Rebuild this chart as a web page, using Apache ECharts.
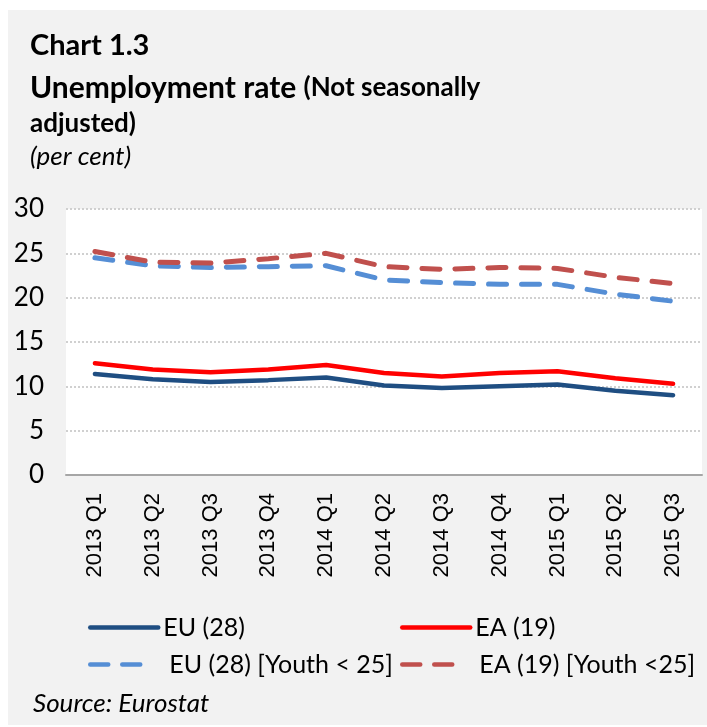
<!DOCTYPE html>
<html>
<head>
<meta charset="utf-8">
<script src="https://cdn.jsdelivr.net/npm/echarts@6/dist/echarts.min.js"></script>
<style>html,body{margin:0;padding:0;background:#fff;}#c{width:707px;height:727px;}</style>
</head>
<body>
<div id="c"></div>
<script>
const categories = ['2013 Q1','2013 Q2','2013 Q3','2013 Q4','2014 Q1','2014 Q2','2014 Q3','2014 Q4','2015 Q1','2015 Q2','2015 Q3'];
const eu28 = [11.4, 10.8, 10.5, 10.7, 11.0, 10.1, 9.8, 10.0, 10.2, 9.5, 9.0];
const ea19 = [12.6, 11.9, 11.6, 11.9, 12.4, 11.5, 11.1, 11.5, 11.7, 10.9, 10.3];
const eu28Youth = [24.5, 23.6, 23.4, 23.5, 23.6, 22.0, 21.7, 21.5, 21.5, 20.4, 19.6];
const ea19Youth = [25.2, 24.0, 23.9, 24.4, 25.0, 23.5, 23.2, 23.4, 23.3, 22.3, 21.6];
const yTicks = [0, 5, 10, 15, 20, 25, 30];

const FONT = 'Lato';
const chart = echarts.init(document.getElementById('c'), null, {renderer: 'canvas'});

function legendAt(name, left, top, width, dashType) {
  const l = {
    data: [name], left: left, top: top, itemWidth: width, itemHeight: 14,
    padding: 0, textStyle: {fontFamily: FONT, fontSize: 25, color: '#000'},
    itemStyle: {opacity: 0},
    lineStyle: {width: 4.5, cap: 'round'}
  };
  if (dashType) l.lineStyle.type = dashType;
  return l;
}

chart.setOption({
  backgroundColor: '#ffffff',
  animation: false,
  graphic: [
    {type: 'rect', z: -10, shape: {x: 8, y: 10, width: 699, height: 715}, style: {fill: '#f2f2f2'}},
    {type: 'text', left: 30, top: 31, style: {text: 'Chart 1.3', font: 'bold 29px Lato', fill: '#000'}},
    {type: 'text', left: 30, top: 73, style: {
      rich: {
        a: {fontFamily: FONT, fontWeight: 'bold', fontSize: 30, fill: '#000', color: '#000'},
        b: {fontFamily: FONT, fontWeight: 'bold', fontSize: 26, fill: '#000', color: '#000'}
      },
      text: '{a|Unemployment rate }{b|(Not seasonally}'
    }},
    {type: 'text', left: 30, top: 111, style: {text: 'adjusted)', font: 'bold 26px Lato', fill: '#000'}},
    {type: 'text', left: 30, top: 144, style: {text: '(per cent)', font: 'italic 26px Lato', fill: '#000'}},
    {type: 'text', left: 33, top: 691, style: {text: 'Source: Eurostat', font: 'italic 26px Lato', fill: '#000'}}
  ],
  grid: {left: 66, right: 5, top: 209, bottom: 252, show: true, backgroundColor: '#ffffff', borderWidth: 0},
  legend: [
    legendAt('EU (28)', 88, 615, 68),
    legendAt('EA (19)', 400, 615, 68),
    legendAt('EU (28) [Youth < 25]', 88, 652, 74, [18, 14, 18, 200]),
    legendAt('EA (19) [Youth <25]', 400, 652, 72, [18, 14, 18, 200])
  ],
  xAxis: {
    type: 'category', data: categories, boundaryGap: true,
    axisLine: {lineStyle: {color: '#a6a6a6', width: 2}},
    axisTick: {show: false},
    axisLabel: {rotate: 90, margin: 18, fontFamily: 'Liberation Sans', fontSize: 22, color: '#000', interval: 0}
  },
  yAxis: {
    type: 'value', min: yTicks[0], max: yTicks[yTicks.length - 1], interval: 5,
    axisLine: {show: false}, axisTick: {show: false},
    axisLabel: {fontFamily: FONT, fontSize: 26, color: '#000', margin: 22},
    splitLine: {lineStyle: {color: '#d0d0d0', width: 2, type: [2, 2]}}
  },
  series: [
    {name: 'EU (28)', type: 'line', data: eu28, symbol: 'none', lineStyle: {color: '#1f4e82', width: 4.5, cap: 'round'}, itemStyle: {color: '#1f4e82'}},
    {name: 'EA (19)', type: 'line', data: ea19, symbol: 'none', lineStyle: {color: '#ff0000', width: 4.5, cap: 'round'}, itemStyle: {color: '#ff0000'}},
    {name: 'EU (28) [Youth < 25]', type: 'line', data: eu28Youth, symbol: 'none', lineStyle: {color: '#558ed5', width: 5, type: [18, 15], cap: 'round'}, itemStyle: {color: '#558ed5'}},
    {name: 'EA (19) [Youth <25]', type: 'line', data: ea19Youth, symbol: 'none', lineStyle: {color: '#c0504d', width: 5, type: [18, 15], cap: 'round'}, itemStyle: {color: '#c0504d'}}
  ]
});
</script>
</body>
</html>
